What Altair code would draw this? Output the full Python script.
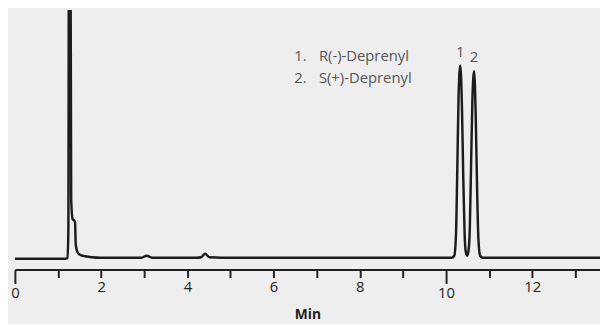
import altair as alt
import pandas as pd

# Chromatogram trace (time in min, detector signal in arbitrary units, baseline = 0)
time_min = [0.0, 0.5, 1.0, 1.17, 1.22, 1.24, 1.255, 1.285, 1.305, 1.34, 1.37, 1.395, 1.41,
            1.44, 1.48, 1.54, 1.63, 1.78, 2.0, 2.5, 2.93, 3.06, 3.18, 3.6, 4.2, 4.32, 4.41,
            4.51, 4.8, 6.0, 8.0, 10.13, 10.19, 10.23, 10.26, 10.29, 10.33, 10.37, 10.40,
            10.43, 10.46, 10.49, 10.52, 10.55, 10.58, 10.61, 10.65, 10.69, 10.72, 10.75,
            10.79, 10.85, 11.5, 12.5, 13.7]
signal = [0, 0, 0, 0, 0.5, 30, 400, 400, 60, 40, 39, 37, 15,
          8, 5, 3.5, 2.5, 1.5, 1, 1, 1, 3, 1, 1, 1, 1.5, 5,
          1.5, 1, 1, 1, 1, 3, 25, 90, 165, 196, 150, 80,
          25, 6, 3, 8, 30, 95, 160, 190, 140, 70, 20,
          3, 1, 1, 1, 1]

legend_nums = ["1.", "2."]
legend_names = ["R(-)-Deprenyl", "S(+)-Deprenyl"]
legend_y = [205, 183]
legend_num_x = [6.48, 6.48]
legend_name_x = [7.05, 7.05]

peak_labels = ["1", "2"]
peak_x = [10.33, 10.65]
peak_y = [209, 204]

tick_values = list(range(0, 14))

trace = pd.DataFrame({"t": time_min, "s": signal})
leg_num_df = pd.DataFrame({"x": legend_num_x, "y": legend_y, "txt": legend_nums})
leg_name_df = pd.DataFrame({"x": legend_name_x, "y": legend_y, "txt": legend_names})
peak_df = pd.DataFrame({"x": peak_x, "y": peak_y, "txt": peak_labels})

xscale = alt.Scale(domain=[0, 13.57], nice=False, zero=False)
yscale = alt.Scale(domain=[-11, 252], nice=False, zero=False)

x_axis = alt.Axis(
    values=tick_values,
    labelExpr="datum.value % 2 === 0 ? datum.label : ''",
    title="Min",
    grid=False,
    domainColor="#222222",
    domainWidth=2,
    tickColor="#222222",
    tickWidth=2,
    tickSize={"condition": {"test": "datum.value % 10 === 0", "value": 14}, "value": 8},
    labelFontSize=15,
    labelColor="#222222",
    labelPadding=2,
    labelFlush=False,
    titleFontSize=14,
    titleFontWeight="bold",
    titleColor="#222222",
    titlePadding=8,
)

line = alt.Chart(trace).mark_line(
    color="#1c1c1c", strokeWidth=2.5, interpolate="monotone", clip=True
).encode(
    x=alt.X("t:Q", scale=xscale, axis=x_axis),
    y=alt.Y("s:Q", scale=yscale, axis=None),
)

nums = alt.Chart(leg_num_df).mark_text(
    align="left", baseline="middle", fontSize=15, color="#555555", font="Open Sans"
).encode(x=alt.X("x:Q", scale=xscale), y=alt.Y("y:Q", scale=yscale), text="txt:N")

names = alt.Chart(leg_name_df).mark_text(
    align="left", baseline="middle", fontSize=15, color="#555555", font="Open Sans"
).encode(x=alt.X("x:Q", scale=xscale), y=alt.Y("y:Q", scale=yscale), text="txt:N")

peaks = alt.Chart(peak_df).mark_text(
    align="center", baseline="middle", fontSize=15, color="#555555", font="Open Sans"
).encode(x=alt.X("x:Q", scale=xscale), y=alt.Y("y:Q", scale=yscale), text="txt:N")

chart = alt.layer(line, nums, names, peaks).properties(
    width=600,
    height=316,
    autosize=alt.AutoSizeParams(type="fit", contains="padding"),
    padding={"left": 2, "top": 0, "right": 0, "bottom": 0},
    background="#eeeeee",
).configure_view(stroke=None).configure_axis(
    labelFont="Open Sans", titleFont="Open Sans"
)

chart.save("out.html", embed_options={"renderer": "svg", "actions": False})
